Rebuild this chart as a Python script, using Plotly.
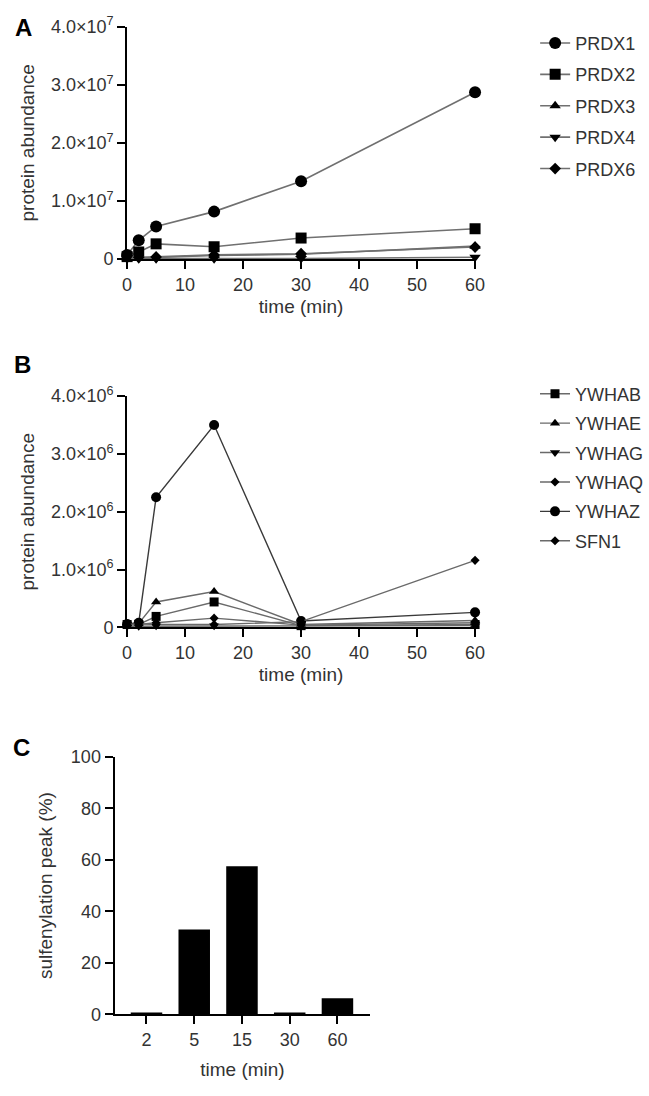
import plotly.graph_objects as go

# ---------------- data ----------------
time_min = [0, 2, 5, 15, 30, 60]

prdx_names = ["PRDX1", "PRDX2", "PRDX3", "PRDX4", "PRDX6"]
prdx1 = [0.7e6, 3.2e6, 5.6e6, 8.15e6, 13.4e6, 28.7e6]
prdx2 = [0.4e6, 1.2e6, 2.6e6, 2.1e6, 3.6e6, 5.2e6]
prdx3 = [0.2e6, 0.15e6, 0.25e6, 0.6e6, 0.8e6, 2.2e6]
prdx4 = [0.05e6, 0.05e6, 0.05e6, 0.05e6, 0.08e6, 0.3e6]
prdx6 = [0.5e6, 0.3e6, 0.35e6, 0.7e6, 0.9e6, 2.05e6]

ywha_names = ["YWHAB", "YWHAE", "YWHAG", "YWHAQ", "YWHAZ", "SFN1"]
ywhab = [0.05e6, 0.05e6, 0.19e6, 0.44e6, 0.03e6, 0.05e6]
ywhae = [0.06e6, 0.07e6, 0.44e6, 0.62e6, 0.05e6, 0.12e6]
ywhag = [0.02e6, 0.02e6, 0.03e6, 0.03e6, 0.02e6, 0.03e6]
ywhaq = [0.04e6, 0.05e6, 0.08e6, 0.16e6, 0.04e6, 0.08e6]
ywhaz = [0.06e6, 0.08e6, 2.25e6, 3.5e6, 0.11e6, 0.26e6]
sfn1 = [0.05e6, 0.06e6, 0.05e6, 0.05e6, 0.1e6, 1.16e6]

bar_cats = ["2", "5", "15", "30", "60"]
bar_vals = [0.8, 33, 57.5, 0.8, 6.3]

a_ticks = [0, 1e7, 2e7, 3e7, 4e7]
a_ticktext = ["0", "1.0×10<sup>7</sup>", "2.0×10<sup>7</sup>", "3.0×10<sup>7</sup>", "4.0×10<sup>7</sup>"]
b_ticks = [0, 1e6, 2e6, 3e6, 4e6]
b_ticktext = ["0", "1.0×10<sup>6</sup>", "2.0×10<sup>6</sup>", "3.0×10<sup>6</sup>", "4.0×10<sup>6</sup>"]

# ---------------- styling ----------------
FONT = "Liberation Sans, Arial, sans-serif"
TXT = "#333333"
W, H = 649, 1096

def px_x(p):
    return p / W

def px_y(p):
    return 1 - p / H

fig = go.Figure()

a_series = [prdx1, prdx2, prdx3, prdx4, prdx6]
a_symbols = ["circle", "square", "triangle-up", "triangle-down", "diamond"]
a_sizes = [12, 11, 10, 10, 9]
for name, vals, sym, sz in zip(prdx_names, a_series, a_symbols, a_sizes):
    fig.add_trace(go.Scatter(
        x=time_min, y=vals, name=name, mode="lines+markers",
        line=dict(color="#707070", width=1.6),
        marker=dict(symbol=sym, size=sz, color="black"),
        xaxis="x", yaxis="y", legend="legend", legendgroup=name,
        cliponaxis=False,
    ))

b_series = [ywhab, ywhae, ywhag, ywhaq, ywhaz, sfn1]
b_symbols = ["square", "triangle-up", "triangle-down", "diamond", "circle", "diamond"]
b_sizes = [9, 9, 9, 7, 10, 7]
b_colors = ["#6a6a6a", "#6a6a6a", "#6a6a6a", "#6a6a6a", "#3a3a3a", "#6a6a6a"]
for name, vals, sym, sz, col in zip(ywha_names, b_series, b_symbols, b_sizes, b_colors):
    fig.add_trace(go.Scatter(
        x=time_min, y=vals, name=name, mode="lines+markers",
        line=dict(color=col, width=1.4),
        marker=dict(symbol=sym, size=sz, color="black"),
        xaxis="x2", yaxis="y2", legend="legend2", legendgroup=name,
        cliponaxis=False,
    ))

fig.add_trace(go.Bar(
    x=bar_cats, y=bar_vals, marker=dict(color="black", line=dict(width=0)),
    width=0.66, xaxis="x3", yaxis="y3", showlegend=False,
))

axis_common = dict(
    showline=True, linecolor="black", linewidth=2,
    ticks="outside", ticklen=8, tickwidth=2, tickcolor="black",
    showgrid=False, zeroline=False,
    tickfont=dict(family=FONT, size=18, color=TXT),
    title_font=dict(family=FONT, size=19, color=TXT),
)

fig.update_layout(
    width=W, height=H,
    margin=dict(l=0, r=0, t=0, b=0),
    paper_bgcolor="white", plot_bgcolor="white",
    font=dict(family=FONT, size=18, color=TXT),
    xaxis=dict(domain=[px_x(126), px_x(485)], anchor="y", range=[0, 60],
               tickvals=[0, 10, 20, 30, 40, 50, 60],
               title=dict(text="time (min)", standoff=6), **axis_common),
    yaxis=dict(domain=[px_y(252), px_y(15)], anchor="x", range=[0, 4e7],
               tickvals=a_ticks, ticktext=a_ticktext,
               title=dict(text="protein abundance", standoff=11), **axis_common),
    xaxis2=dict(domain=[px_x(126), px_x(485)], anchor="y2", range=[0, 60],
                tickvals=[0, 10, 20, 30, 40, 50, 60],
                title=dict(text="time (min)", standoff=6), **axis_common),
    yaxis2=dict(domain=[px_y(628), px_y(392)], anchor="x2", range=[0, 4e6],
                tickvals=b_ticks, ticktext=b_ticktext,
                title=dict(text="protein abundance", standoff=11), **axis_common),
    xaxis3=dict(domain=[px_x(113), px_x(377)], anchor="y3", type="category",
                range=[-0.67, 4.69],
                title=dict(text="time (min)", standoff=14), **axis_common),
    yaxis3=dict(domain=[px_y(1023), px_y(760)], anchor="x3", range=[0, 100],
                tickvals=[0, 20, 40, 60, 80, 100],
                title=dict(text="sulfenylation peak (%)", standoff=13), **axis_common),
    legend=dict(x=px_x(547), y=px_y(13), xanchor="left", yanchor="top",
                font=dict(family=FONT, size=18, color=TXT),
                itemwidth=30, tracegroupgap=5, traceorder="grouped",
                bgcolor="rgba(0,0,0,0)"),
    legend2=dict(x=px_x(547), y=px_y(371), xanchor="left", yanchor="top",
                 font=dict(family=FONT, size=18, color=TXT),
                 itemwidth=30, tracegroupgap=3, traceorder="grouped",
                 bgcolor="rgba(0,0,0,0)"),
    showlegend=True,
    bargap=0.34,
)

for letter, x, y in [("A", 19, 16), ("B", 18, 360), ("C", 17, 751)]:
    fig.add_annotation(text=f"<b>{letter}</b>", x=px_x(x), y=px_y(y),
                       xref="paper", yref="paper", showarrow=False,
                       xanchor="center", yanchor="middle",
                       font=dict(family=FONT, size=24, color="black"))

fig.write_html("out.html",
               config={"displayModeBar": False},
               post_script="document.body.style.margin='0';document.body.style.overflow='hidden';")
